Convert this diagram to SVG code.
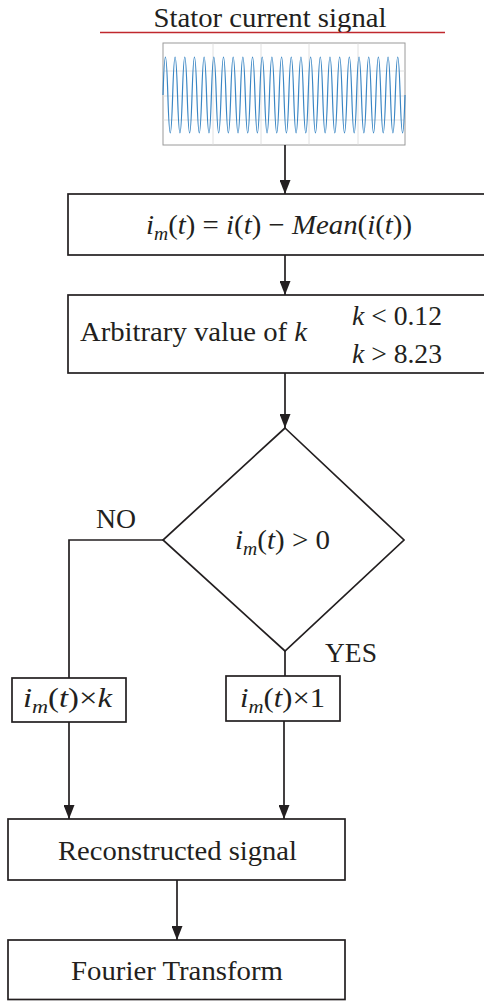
<svg xmlns="http://www.w3.org/2000/svg" width="484" height="1001" viewBox="0 0 484 1001">
<defs>
<style>
.box{fill:#fff;stroke:#231f20;stroke-width:1.7}
.ln{fill:none;stroke:#231f20;stroke-width:1.7}
.t{font-family:'Liberation Serif','Times New Roman',Times,Tinos,'Noto Serif','DejaVu Serif',FreeSerif,serif;font-size:28px;fill:#231f20}
.it{font-style:italic}
.sub{font-size:19px;font-style:italic}
.grid{stroke:#d8d8d8;stroke-width:0.8}
</style>
<marker id="ah" markerWidth="14" markerHeight="11" refX="14" refY="5.5" orient="auto" markerUnits="userSpaceOnUse" viewBox="0 0 14 11">
<path d="M0,0 L14,5.5 L0,11 Z" fill="#231f20"/>
</marker>
</defs>
<rect width="484" height="1001" fill="#fff"/>

<g id="title">
<text class="t" x="270" y="27" text-anchor="middle" textLength="233" lengthAdjust="spacingAndGlyphs">Stator current signal</text>
<line x1="100" y1="32.5" x2="445" y2="32.5" stroke="#c0282d" stroke-width="1.5"/>
</g>

<g id="signal">
<rect x="163" y="43" width="242" height="102" fill="#fff" stroke="#9a9a9a" stroke-width="1"/>
<line class="grid" x1="213" y1="43" x2="213" y2="145"/>
<line class="grid" x1="261" y1="43" x2="261" y2="145"/>
<line class="grid" x1="309" y1="43" x2="309" y2="145"/>
<line class="grid" x1="358" y1="43" x2="358" y2="145"/>
<line class="grid" x1="163" y1="71" x2="405" y2="71"/>
<line class="grid" x1="163" y1="96" x2="405" y2="96"/>
<line class="grid" x1="163" y1="120" x2="405" y2="120"/>
<path d="M163,95 q2.42,-76 4.84,0 t4.84,0 t4.84,0 t4.84,0 t4.84,0 t4.84,0 t4.84,0 t4.84,0 t4.84,0 t4.84,0 t4.84,0 t4.84,0 t4.84,0 t4.84,0 t4.84,0 t4.84,0 t4.84,0 t4.84,0 t4.84,0 t4.84,0 t4.84,0 t4.84,0 t4.84,0 t4.84,0 t4.84,0 t4.84,0 t4.84,0 t4.84,0 t4.84,0 t4.84,0 t4.84,0 t4.84,0 t4.84,0 t4.84,0 t4.84,0 t4.84,0 t4.84,0 t4.84,0 t4.84,0 t4.84,0 t4.84,0 t4.84,0 t4.84,0 t4.84,0 t4.84,0 t4.84,0 t4.84,0 t4.84,0 t4.84,0 t4.84,0" fill="none" stroke="#3a86c4" stroke-width="1.2"/>
</g>

<g id="connectors">
<line class="ln" x1="285" y1="145" x2="285" y2="194" marker-end="url(#ah)"/>
<line class="ln" x1="285" y1="255" x2="285" y2="295" marker-end="url(#ah)"/>
<line class="ln" x1="285" y1="373" x2="285" y2="428" marker-end="url(#ah)"/>
<polyline class="ln" points="163,540 69,540 69,678"/>
<line class="ln" x1="285" y1="651" x2="285" y2="676"/>
<line class="ln" x1="69" y1="722" x2="69" y2="819" marker-end="url(#ah)"/>
<line class="ln" x1="284" y1="721" x2="284" y2="819" marker-end="url(#ah)"/>
<line class="ln" x1="177" y1="880" x2="177" y2="940" marker-end="url(#ah)"/>
<text class="t" x="96" y="528" textLength="40" lengthAdjust="spacingAndGlyphs">NO</text>
<text class="t" x="325" y="662" textLength="52" lengthAdjust="spacingAndGlyphs">YES</text>
</g>

<g id="mean">
<rect class="box" x="68" y="194" width="422" height="61"/>
<text class="t" x="146" y="234" textLength="266" lengthAdjust="spacingAndGlyphs"><tspan class="it">i</tspan><tspan class="sub" dy="6">m</tspan><tspan dy="-6">(</tspan><tspan class="it">t</tspan><tspan>) = </tspan><tspan class="it">i</tspan><tspan>(</tspan><tspan class="it">t</tspan><tspan>) − </tspan><tspan class="it">Mean</tspan><tspan>(</tspan><tspan class="it">i</tspan><tspan>(</tspan><tspan class="it">t</tspan><tspan>))</tspan></text>
</g>

<g id="kvalue">
<rect class="box" x="68" y="295" width="422" height="78"/>
<text class="t" x="80" y="341" textLength="227" lengthAdjust="spacingAndGlyphs">Arbitrary value of <tspan class="it">k</tspan></text>
<text class="t" x="352" y="325" textLength="90" lengthAdjust="spacingAndGlyphs"><tspan class="it">k</tspan> &lt; 0.12</text>
<text class="t" x="352" y="363" textLength="90" lengthAdjust="spacingAndGlyphs"><tspan class="it">k</tspan> &gt; 8.23</text>
</g>

<g id="decision">
<polygon class="box" points="285,428 404,540 285,651 163,540"/>
<text class="t" x="235" y="549" textLength="95" lengthAdjust="spacingAndGlyphs"><tspan class="it">i</tspan><tspan class="sub" dy="6">m</tspan><tspan dy="-6">(</tspan><tspan class="it">t</tspan><tspan>) &gt; 0</tspan></text>
</g>

<g id="timesk">
<rect class="box" x="12" y="678" width="114" height="44"/>
<text class="t" x="23" y="707" textLength="89" lengthAdjust="spacingAndGlyphs"><tspan class="it">i</tspan><tspan class="sub" dy="6">m</tspan><tspan dy="-6">(</tspan><tspan class="it">t</tspan><tspan>)×</tspan><tspan class="it">k</tspan></text>
</g>

<g id="times1">
<rect class="box" x="226" y="676" width="114" height="45"/>
<text class="t" x="240" y="707" textLength="85" lengthAdjust="spacingAndGlyphs"><tspan class="it">i</tspan><tspan class="sub" dy="6">m</tspan><tspan dy="-6">(</tspan><tspan class="it">t</tspan><tspan>)×1</tspan></text>
</g>

<g id="reconstructed">
<rect class="box" x="8" y="819" width="337" height="61"/>
<text class="t" x="58" y="860" textLength="239" lengthAdjust="spacingAndGlyphs">Reconstructed signal</text>
</g>

<g id="fourier">
<rect class="box" x="8" y="940" width="337" height="59.5"/>
<text class="t" x="71" y="980" textLength="212" lengthAdjust="spacingAndGlyphs">Fourier Transform</text>
</g>
</svg>
